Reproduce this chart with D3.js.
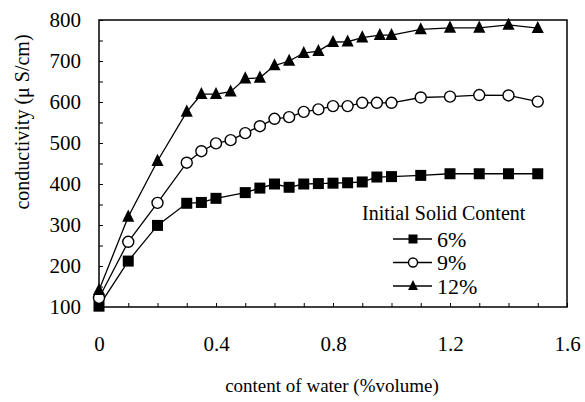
<!DOCTYPE html>
<html>
<head>
<meta charset="utf-8">
<script src="https://d3js.org/d3.v7.min.js"></script>
<style>
  body { margin: 0; background: #fff; }
  svg text { font-family: "Liberation Serif", "DejaVu Serif", serif !important; fill: #000; }
  .axis path, .axis line { stroke: #000; }
</style>
</head>
<body>
<div id="chart"></div>
<script>
// water content (% volume) for each series
const water6 = [0, 0.1, 0.2, 0.3, 0.35, 0.4, 0.5, 0.55, 0.6, 0.65, 0.7, 0.75, 0.8, 0.85, 0.9, 0.95, 1.0, 1.1, 1.2, 1.3, 1.4, 1.5];
const water9 = [0, 0.1, 0.2, 0.3, 0.35, 0.4, 0.45, 0.5, 0.55, 0.6, 0.65, 0.7, 0.75, 0.8, 0.85, 0.9, 0.95, 1.0, 1.1, 1.2, 1.3, 1.4, 1.5];
const water12 = [0, 0.1, 0.2, 0.3, 0.35, 0.4, 0.45, 0.5, 0.55, 0.6, 0.65, 0.7, 0.75, 0.8, 0.85, 0.9, 0.96, 1.0, 1.1, 1.2, 1.3, 1.4, 1.5];

// conductivity (uS/cm)
const cond6 = [102, 212, 299, 353, 355, 365, 379, 390, 400, 392, 400, 401, 402, 403, 405, 417, 418, 421, 425, 425, 425, 425];
const cond9 = [122, 259, 354, 452, 480, 499, 507, 524, 541, 559, 563, 576, 582, 590, 590, 598, 598, 598, 611, 613, 617, 616, 601];
const cond12 = [141, 320, 456, 576, 619, 619, 625, 657, 659, 689, 700, 719, 724, 746, 747, 757, 763, 763, 777, 781, 781, 788, 780];

const seriesNames = ['6%', '9%', '12%'];
const xTicks = [0, 0.4, 0.8, 1.2, 1.6];
const yTicks = [100, 200, 300, 400, 500, 600, 700, 800];

const width = 585, height = 402;
const margin = { top: 20, right: 18, bottom: 95, left: 99 };
const w = width - margin.left - margin.right;
const h = height - margin.top - margin.bottom;
const serif = '"Liberation Serif", "DejaVu Serif", serif';

const series = [
  { name: seriesNames[0], shape: 'square', values: water6.map((x, i) => ({ x: x, y: cond6[i] })) },
  { name: seriesNames[1], shape: 'circle', values: water9.map((x, i) => ({ x: x, y: cond9[i] })) },
  { name: seriesNames[2], shape: 'triangle', values: water12.map((x, i) => ({ x: x, y: cond12[i] })) }
];

const svg = d3.select('#chart').append('svg')
  .attr('width', width)
  .attr('height', height)
  .attr('font-family', serif);

const g = svg.append('g')
  .attr('transform', 'translate(' + margin.left + ',' + margin.top + ')');

const xScale = d3.scaleLinear().domain([0, 1.6]).range([0, w]);
const yScale = d3.scaleLinear().domain([100, 800]).range([h, 0]);

// minor ticks every 0.1 / 50, labels only on the major ones
const xAxis = d3.axisBottom(xScale)
  .tickValues(d3.range(0, 17).map(d => d / 10))
  .tickSizeInner(-4)
  .tickSizeOuter(0)
  .tickPadding(29)
  .tickFormat(d => xTicks.some(t => Math.abs(t - d) < 1e-6) ? d3.format('~g')(d) : '');

const yAxis = d3.axisLeft(yScale)
  .tickValues(d3.range(100, 801, 50))
  .tickSizeInner(-4)
  .tickSizeOuter(0)
  .tickPadding(18)
  .tickFormat(d => yTicks.indexOf(d) >= 0 ? d : '');

g.append('g')
  .attr('class', 'axis x')
  .attr('transform', 'translate(0,' + h + ')')
  .call(xAxis)
  .attr('font-family', serif)
  .call(s => s.select('.domain').remove())
  .selectAll('text')
  .style('font-size', '21px');

g.append('g')
  .attr('class', 'axis y')
  .call(yAxis)
  .attr('font-family', serif)
  .call(s => s.select('.domain').remove())
  .selectAll('text')
  .style('font-size', '21px');

// frame
g.append('rect')
  .attr('x', 0)
  .attr('y', 0)
  .attr('width', w)
  .attr('height', h)
  .style('fill', 'none')
  .style('stroke', '#000')
  .style('stroke-width', 1.5);

const line = d3.line()
  .x(d => xScale(d.x))
  .y(d => yScale(d.y));

function drawMarker(sel, shape, size) {
  if (shape === 'square') {
    sel.append('rect')
      .attr('x', -size / 2).attr('y', -size / 2)
      .attr('width', size).attr('height', size)
      .style('fill', '#000');
  } else if (shape === 'circle') {
    sel.append('circle')
      .attr('r', size / 2)
      .style('fill', '#fff')
      .style('stroke', '#000')
      .style('stroke-width', 1.4);
  } else {
    const s = size * 1.1;
    sel.append('path')
      .attr('d', 'M0,' + (-s * 0.6) + 'L' + (s / 2) + ',' + (s * 0.4) + 'L' + (-s / 2) + ',' + (s * 0.4) + 'Z')
      .style('fill', '#000');
  }
}

const groups = g.selectAll('g.series')
  .data(series)
  .enter()
  .append('g')
  .attr('class', 'series');

groups.append('path')
  .attr('d', d => line(d.values))
  .style('fill', 'none')
  .style('stroke', '#000')
  .style('stroke-width', 1.3);

groups.each(function(d) {
  d3.select(this).selectAll('g.pt')
    .data(d.values)
    .enter()
    .append('g')
    .attr('class', 'pt')
    .attr('transform', p => 'translate(' + xScale(p.x) + ',' + yScale(p.y) + ')')
    .each(function() { drawMarker(d3.select(this), d.shape, 11); });
});

// legend
const legend = svg.append('g')
  .attr('transform', 'translate(362,213)');

legend.append('text')
  .text('Initial Solid Content')
  .attr('x', 0)
  .attr('y', 0)
  .attr('dy', '0.35em')
  .style('font-size', '20px');

const items = legend.selectAll('g.item')
  .data(series)
  .enter()
  .append('g')
  .attr('class', 'item')
  .attr('transform', (d, i) => 'translate(0,' + (26 + i * 23.5) + ')');

items.append('line')
  .attr('x1', 31).attr('x2', 70)
  .attr('y1', 0).attr('y2', 0)
  .style('stroke', '#000')
  .style('stroke-width', 1.3);

items.each(function(d) {
  const m = d3.select(this).append('g').attr('transform', 'translate(51,0)');
  drawMarker(m, d.shape, 9);
});

items.append('text')
  .text(d => d.name)
  .attr('x', 75)
  .attr('y', 0)
  .attr('dy', '0.35em')
  .style('font-size', '22px');

// axis titles
svg.append('text')
  .text('content of water (%volume)')
  .attr('x', 332)
  .attr('y', 385)
  .attr('dy', '0.35em')
  .style('text-anchor', 'middle')
  .style('font-size', '19px');

svg.append('text')
  .text('conductivity (\u03bc S/cm)')
  .attr('transform', 'translate(22,122) rotate(-90)')
  .attr('dy', '0.35em')
  .style('text-anchor', 'middle')
  .style('font-size', '20px');
</script>
</body>
</html>
